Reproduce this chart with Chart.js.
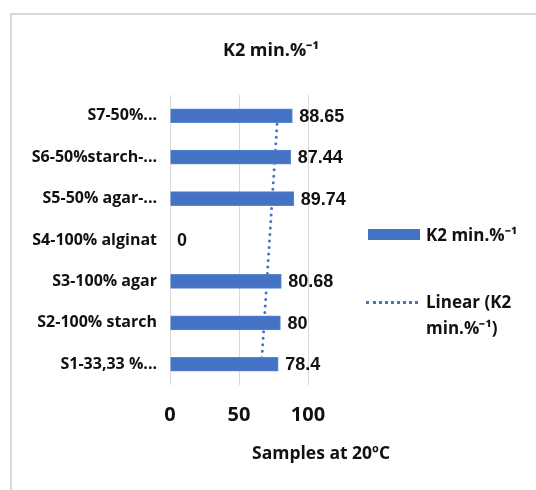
<!DOCTYPE html>
<html>
<head>
<meta charset="utf-8">
<script src="https://cdn.jsdelivr.net/npm/chart.js@4/dist/chart.umd.min.js"></script>
<style>
  body { margin: 0; width: 536px; height: 490px; overflow: hidden; background: #fff; font-family: "Open Sans", sans-serif; }
  #frame { position: absolute; left: 10px; top: 13px; width: 540px; height: 490px; border: 2px solid #d9d9d9; box-sizing: border-box; }
  #wrap { position: absolute; left: 0; top: 0; width: 536px; height: 490px; }
  .txt { position: absolute; font-weight: bold; color: #111; white-space: nowrap; }
  #title { left: 0; width: 542px; top: 37px; text-align: center; font-size: 18px; }
  #xtitle { left: 252px; top: 440px; font-size: 17.5px; }
  #leg1box { position: absolute; left: 368px; top: 229px; width: 52px; height: 11px; background: #4472c4; }
  #leg1 { left: 426px; top: 223px; font-size: 17px; }
  #leg2line { position: absolute; left: 366px; top: 301px; width: 52px; height: 0; border-top: 3px dotted #4472c4; }
  #leg2 { left: 426px; top: 289px; font-size: 17px; line-height: 26px; }
</style>
</head>
<body>
<div id="frame"></div>
<div id="wrap"><canvas id="chart" width="536" height="490"></canvas></div>
<div class="txt" id="title"></div>
<div class="txt" id="xtitle"></div>
<div id="leg1box"></div>
<div class="txt" id="leg1"></div>
<div id="leg2line"></div>
<div class="txt" id="leg2"></div>
<script>
// data
const categories = ["S1-33,33 %...", "S2-100% starch", "S3-100% agar", "S4-100% alginat", "S5-50% agar-...", "S6-50%starch-...", "S7-50%..."];
const k2Values = [78.4, 80, 80.68, 0, 89.74, 87.44, 88.65];
const xTicks = [0, 50, 100];
const seriesName = "K2 min.%⁻¹";
const xAxisTitle = "Samples at 20ºC";

document.getElementById("title").textContent = seriesName;
document.getElementById("xtitle").textContent = xAxisTitle;
document.getElementById("leg1").textContent = seriesName;
document.getElementById("leg2").innerHTML = "Linear (K2<br>min.%⁻¹)";

// linear trendline (least squares over category index), like Excel does
function linearTrend(vals) {
  const n = vals.length;
  let sx = 0, sy = 0, sxy = 0, sxx = 0;
  vals.forEach((v, i) => {
    const x = i + 1;
    sx += x; sy += v; sxy += x * v; sxx += x * x;
  });
  const slope = (n * sxy - sx * sy) / (n * sxx - sx * sx);
  const icpt = (sy - slope * sx) / n;
  return vals.map((v, i) => icpt + slope * (i + 1));
}

// value labels at the end of each bar
const barLabels = {
  id: "barLabels",
  afterDatasetsDraw(chart) {
    const ctx = chart.ctx;
    const meta = chart.getDatasetMeta(0);
    ctx.save();
    ctx.font = "bold 18px 'Liberation Sans', Arial, sans-serif";
    ctx.fillStyle = "#111";
    ctx.textBaseline = "middle";
    ctx.textAlign = "left";
    meta.data.forEach((bar, i) => {
      ctx.fillText(String(k2Values[i]), bar.x + 7, bar.y + 1);
    });
    ctx.restore();
  }
};

new Chart(document.getElementById("chart"), {
  data: {
    labels: categories,
    datasets: [
      {
        type: "bar",
        label: seriesName,
        data: k2Values,
        backgroundColor: "#4472c4",
        borderColor: "#5b86d0",
        borderWidth: 1,
        barThickness: 14,
        order: 0
      },
      {
        type: "line",
        label: "Linear (K2 min.%⁻¹)",
        data: linearTrend(k2Values),
        borderColor: "#4472c4",
        borderWidth: 3,
        borderDash: [0, 6.5],
        borderCapStyle: "round",
        pointRadius: 0,
        fill: false,
        order: 1
      }
    ]
  },
  options: {
    indexAxis: "y",
    responsive: false,
    animation: false,
    layout: { padding: { top: 95, bottom: 55, left: 0, right: 228 } },
    plugins: {
      legend: { display: false },
      title: { display: false },
      tooltip: { enabled: false }
    },
    scales: {
      x: {
        min: 0,
        max: 100,
        afterBuildTicks: (scale) => { scale.ticks = xTicks.map(v => ({ value: v })); },
        afterFit: (scale) => { scale.height = 50; },
        grid: { color: "#d9d9d9", lineWidth: 1, drawTicks: false },
        border: { display: false },
        ticks: {
          padding: 18,
          color: "#111",
          font: { family: "'Open Sans', sans-serif", size: 20, weight: "bold" }
        }
      },
      y: {
        reverse: true,
        afterFit: (scale) => { scale.width = 170; },
        grid: { display: false },
        border: { display: false },
        ticks: {
          padding: 5,
          color: "#111",
          font: { family: "'Open Sans', sans-serif", size: 16, weight: "bold" }
        }
      }
    }
  },
  plugins: [barLabels]
});
</script>
</body>
</html>
